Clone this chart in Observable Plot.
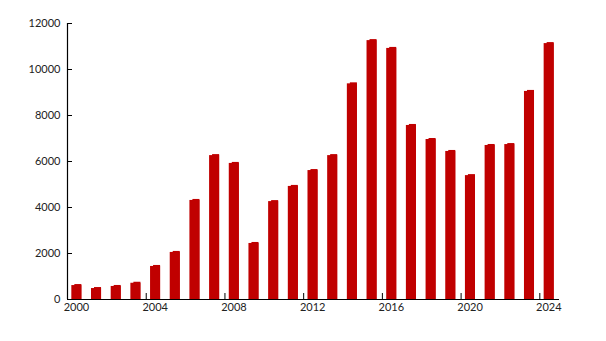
<!DOCTYPE html>
<html>
<head>
<meta charset="utf-8">
<script src="https://cdn.jsdelivr.net/npm/d3@7"></script>
<script src="https://cdn.jsdelivr.net/npm/@observablehq/plot@0.6"></script>
<style>
  html, body { margin: 0; padding: 0; background: #fff; }
  #chart { width: 606px; height: 341px; }
</style>
</head>
<body>
<div id="chart"></div>
<script>
const years = [2000, 2001, 2002, 2003, 2004, 2005, 2006, 2007, 2008, 2009, 2010, 2011, 2012,
               2013, 2014, 2015, 2016, 2017, 2018, 2019, 2020, 2021, 2022, 2023, 2024];
const values = [650, 520, 610, 750, 1480, 2090, 4350, 6300, 5960, 2480, 4300, 4960, 5650,
                6300, 9420, 11300, 10960, 7610, 7000, 6480, 5430, 6740, 6780, 9090, 11170];
const xTicks = [2000, 2004, 2008, 2012, 2016, 2020, 2024];
const yTicks = [0, 2000, 4000, 6000, 8000, 10000, 12000];

const data = years.map((y, i) => ({year: y, value: values[i]}));

const W = 606, H = 341;
const mL = 67, mR = 47, mT = 23, mB = 42;
const plotW = W - mL - mR, plotH = H - mT - mB;
const red = "#c00000";

const chart = Plot.plot({
  width: W,
  height: H,
  marginLeft: mL,
  marginRight: mR,
  marginTop: mT,
  marginBottom: mB,
  style: {fontFamily: "Lato, sans-serif", fontSize: "11px", color: "#222", background: "#fff"},
  x: {domain: [2000, 2025]},
  y: {domain: [0, 12000]},
  marks: [
    Plot.rectY(data, {x1: d => d.year + 0.22, x2: d => d.year + 0.73, y1: 0, y2: "value", fill: red, insetTop: 1}),
    Plot.rectY(data, {x1: d => d.year + 0.22, x2: d => d.year + 0.73, y1: 0, y2: "value", fill: red, insetLeft: 3}),
    Plot.tickY(yTicks, {y: d => d, stroke: "#000", insetRight: plotW - 5}),
    Plot.tickX(xTicks, {x: d => d, stroke: "#000", insetTop: plotH - 6}),
    Plot.ruleY([0], {stroke: "#000", strokeWidth: 1.2}),
    Plot.ruleX([2000], {stroke: "#000", strokeWidth: 1.2}),
    Plot.axisY({ticks: yTicks, tickSize: 0, tickPadding: 7, tickFormat: d => String(d), label: null}),
    Plot.axisX({ticks: xTicks, tickSize: 0, tickPadding: 4, dx: 9, tickFormat: d => String(d), label: null})
  ]
});
document.getElementById("chart").appendChild(chart);
</script>
</body>
</html>
